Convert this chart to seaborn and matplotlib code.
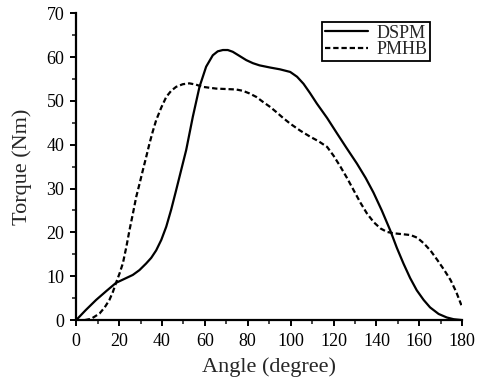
import pandas as pd
import seaborn as sns
import matplotlib.pyplot as plt
from matplotlib.ticker import MultipleLocator

# angle (degree) and torque (Nm)
dspm_angle = [0, 4.5, 9.3, 14, 18.6, 22.5, 26.4, 29.5, 32.6, 35, 37.3, 39.7, 42, 44.3, 46.6,
              49, 51.3, 54.4, 57.5, 60.6, 63.7, 66, 68.4, 70.7, 73, 76, 79.3, 82.4, 85.5,
              90.5, 95, 99.8, 103, 106, 109, 112.2, 117, 121.6, 126, 130.9, 135, 138.6,
              142.5, 146.4, 149.5, 152.6, 155.7, 158.8, 162, 165, 169, 172.8, 176, 180]
dspm_torque = [0, 2.3, 4.6, 6.6, 8.5, 9.4, 10.3, 11.4, 12.9, 14.2, 15.9, 18.3, 21.3, 25.2, 29.6,
               34.3, 38.8, 46.4, 53.2, 57.8, 60.4, 61.3, 61.6, 61.6, 61.2, 60.3, 59.3, 58.6,
               58.1, 57.6, 57.2, 56.6, 55.5, 53.9, 51.8, 49.4, 46.1, 42.6, 39.3, 35.7, 32.4,
               29.1, 25.0, 20.5, 16.5, 12.9, 9.6, 6.8, 4.6, 2.9, 1.4, 0.6, 0.2, 0]

pmhb_angle = [4, 7, 10.9, 13.3, 15.5, 17.1, 18.6, 20.2, 21.8, 23.4, 24.9, 26.5, 28, 29.6,
              31.1, 32.7, 34.2, 35.7, 37.3, 39.7, 42, 44.3, 46.6, 49.7, 52.8, 55.9, 59,
              65.3, 70, 74.6, 77.7, 80.8, 84, 87, 90.5, 93.2, 96.5, 99.8, 104.5, 109.2,
              113, 117, 120, 123.2, 126.3, 129.4, 132.5, 135.6, 138.8, 141.9, 145, 148.1,
              152, 155.9, 159, 162.1, 165.3, 168.4, 171.5, 174.6, 177.3, 179.6]
pmhb_torque = [0, 0.3, 1.5, 2.9, 4.6, 6.4, 8.5, 10.6, 13, 16.7, 20.6, 24.4, 28.1, 31.2,
               34.2, 37.3, 40.3, 43, 45.6, 48.5, 50.9, 52.3, 53.2, 53.8, 54, 53.7, 53.2,
               52.8, 52.7, 52.6, 52.3, 51.7, 50.9, 49.8, 48.6, 47.5, 46.1, 44.8, 43.2, 41.8,
               40.8, 39.5, 37.5, 35, 32.4, 29.6, 26.8, 24.3, 22.3, 20.9, 20.1, 19.8, 19.6,
               19.4, 18.8, 17.5, 15.8, 13.7, 11.5, 9.1, 6.3, 3.4]

df = pd.concat([
    pd.DataFrame({"Angle": dspm_angle, "Torque": dspm_torque, "Motor": "DSPM"}),
    pd.DataFrame({"Angle": pmhb_angle, "Torque": pmhb_torque, "Motor": "PMHB"}),
])

sns.set_style("ticks")
plt.rcParams['font.family'] = ['Liberation Serif', 'DejaVu Serif']

fig = plt.figure(figsize=(4.79, 3.88), dpi=100)
ax = fig.add_axes([0.159, 0.175, 0.806, 0.791])

sns.lineplot(data=df, x="Angle", y="Torque", style="Motor", color="black",
             dashes={"DSPM": "", "PMHB": (2.4, 1.3)}, linewidth=1.6,
             sort=False, estimator=None, ax=ax)

ax.set_xlim(0, 180)
ax.set_ylim(0, 70)
ax.xaxis.set_major_locator(MultipleLocator(20))
ax.xaxis.set_minor_locator(MultipleLocator(10))
ax.yaxis.set_major_locator(MultipleLocator(10))
ax.yaxis.set_minor_locator(MultipleLocator(5))
ax.tick_params(which="major", direction="out", length=4.5, width=1.4, labelsize=13,
               colors="black")
ax.tick_params(which="minor", direction="out", length=3, width=1.2)
ax.tick_params(axis="x", which="major", pad=5)
ax.tick_params(axis="y", which="major", pad=4)
for s in ["left", "bottom"]:
    ax.spines[s].set_linewidth(1.6)
    ax.spines[s].set_color("black")
sns.despine(ax=ax)
ax.set_xlabel("Angle (degree)", fontsize=16, labelpad=5)
ax.set_ylabel("Torque (Nm)", fontsize=16, labelpad=10)

leg = ax.legend(loc="upper right", bbox_to_anchor=(0.917, 0.971), fontsize=13,
                frameon=True, fancybox=False, edgecolor="black", framealpha=1,
                handlelength=2.4, borderpad=0.15, labelspacing=-0.05, handletextpad=0.45,
                borderaxespad=0)
leg.get_frame().set_linewidth(1.3)

fig.savefig("out.png", dpi=100)
